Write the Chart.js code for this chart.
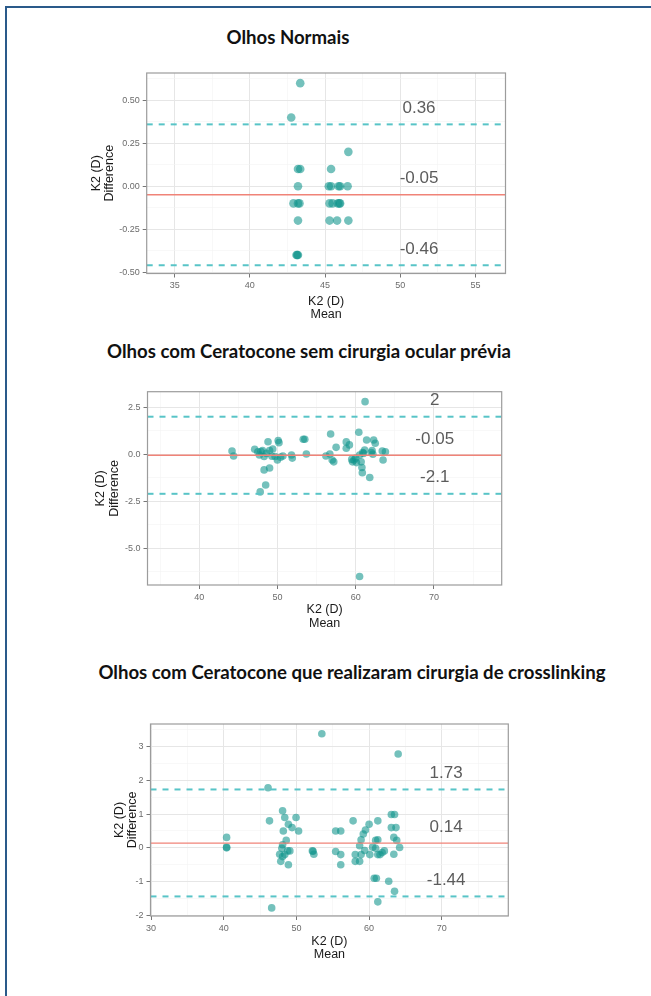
<!DOCTYPE html>
<html>
<head>
<meta charset="utf-8">
<script src="https://cdn.jsdelivr.net/npm/chart.js@4.4.1/dist/chart.umd.min.js"></script>
<style>
  html, body { margin: 0; padding: 0; background: #fff; }
  body { width: 651px; height: 996px; position: relative; overflow: hidden; }
  .frame { position: absolute; left: 5px; top: 6px; width: 700px; height: 1100px;
           border-left: 2px solid #2a5a8a; border-top: 2px solid #2a5a8a; }
  .title { position: absolute; font-family: Lato, "Open Sans", sans-serif; font-weight: 700;
           font-size: 18.6px; color: #111; white-space: nowrap; transform: translate(-50%, -50%); }
  canvas { position: absolute; }
</style>
</head>
<body>
<div class="frame"></div>

<div class="title" style="left:288px; top:37px">Olhos Normais</div>
<canvas id="chartNormal" width="440" height="270" style="left:80px; top:60px"></canvas>

<div class="title" style="left:309px; top:351px">Olhos com Ceratocone sem cirurgia ocular prévia</div>
<canvas id="chartKc" width="440" height="260" style="left:80px; top:380px"></canvas>

<div class="title" style="left:352px; top:672px">Olhos com Ceratocone que realizaram cirurgia de crosslinking</div>
<canvas id="chartCxl" width="440" height="260" style="left:80px; top:710px"></canvas>

<script>
// Olhos Normais
const normalMean = [43.35, 42.75, 43.2, 43.35, 43.2, 42.9, 43.2, 43.3, 43.2, 43.1, 43.2, 43.15,
                    45.4, 45.25, 45.4, 45.9, 46.0, 46.5, 45.3, 45.5, 45.85, 45.95, 46.0, 45.3, 45.8, 46.55, 46.55];
const normalDiff = [0.6, 0.4, 0.1, 0.1, 0.0, -0.1, -0.1, -0.1, -0.2, -0.4, -0.4, -0.4,
                    0.1, 0.0, 0.0, 0.0, 0.0, 0.0, -0.1, -0.1, -0.1, -0.1, -0.1, -0.2, -0.2, -0.2, 0.2];
const normalLimits = [0.36, -0.05, -0.46];
const normalXTicks = [35, 40, 45, 50, 55];
const normalYTicks = [-0.5, -0.25, 0, 0.25, 0.5];
const normalYLabels = ['-0.50', '-0.25', '0.00', '0.25', '0.50'];

// Ceratocone sem cirurgia
const kcMean = [61.2, 60.5, 44.2, 44.4, 47.1, 47.5, 47.7, 48.1, 48.3, 48.8, 49.0, 49.4, 49.7, 50.0, 50.1, 50.2,
                50.7, 51.8, 51.9, 49.0, 48.3, 48.5, 47.8, 53.3, 53.5, 53.7, 56.2, 56.7, 56.8, 57.0, 57.2, 57.5,
                58.8, 58.8, 59.2, 59.5, 59.6, 59.8, 60.1, 60.4, 60.5, 60.7, 60.8, 60.85, 60.9, 61.15, 61.4, 61.8,
                62.0, 62.1, 62.3, 62.5, 63.4, 63.5, 63.8, 47.9, 48.6, 49.3, 50.4, 60.0, 61.0, 62.2];
const kcDiff = [2.8, -6.5, 0.18, -0.09, 0.27, 0.14, -0.04, 0.2, -0.12, 0.67, 0.2, 0.28, -0.12, -0.3, 0.73, 0.62,
                -0.09, -0.04, -0.2, -0.73, -0.83, -1.63, -2.0, 0.8, 0.8, 0.02, -0.09, 0.02, 1.08, -0.3, -0.4, 0.37,
                0.66, 0.32, 0.5, -0.27, -0.4, -0.3, -0.44, 1.17, -0.04, -0.4, -0.7, -0.98, 0.09, 0.23, 0.76, -1.23,
                0.09, 0.2, 0.76, 0.59, 0.18, -0.3, 0.14, 0.15, 0.05, -0.1, -0.15, -0.2, 0.05, 0.0];
const kcLimits = [2, -0.05, -2.1];
const kcXTicks = [40, 50, 60, 70];
const kcYTicks = [-5, -2.5, 0, 2.5];
const kcYLabels = ['-5.0', '-2.5', '0.0', '2.5'];

// Ceratocone com crosslinking
const cxlMean = [53.5, 64.0, 46.1, 40.4, 40.4, 40.4, 46.3, 48.1, 48.4, 49.95, 48.9, 49.4, 50.3, 48.2, 48.6, 48.1,
                 48.0, 48.8, 49.1, 47.7, 48.1, 47.85, 48.9, 48.4, 52.2, 52.4, 52.3, 55.4, 56.1, 55.4, 56.1, 56.1,
                 57.8, 58.1, 58.1, 58.7, 58.9, 58.7, 58.9, 59.2, 59.5, 60.0, 59.4, 60.1, 60.5, 60.9, 61.2, 61.2,
                 60.9, 61.2, 61.5, 61.8, 62.1, 60.7, 61.0, 61.2, 62.7, 63.5, 63.06, 63.5, 63.06, 63.7, 63.4, 63.8,
                 64.2, 63.4, 46.6];
const cxlDiff = [3.38, 2.78, 1.78, 0.31, 0.0, 0.02, 0.8, 1.1, 0.9, 0.9, 0.7, 0.6, 0.5, 0.5, 0.22, 0.09,
                 -0.01, -0.09, -0.09, -0.19, -0.26, -0.4, -0.5, -0.2, -0.09, -0.19, -0.1, 0.5, 0.5, -0.11, -0.2, -0.5,
                 0.8, -0.2, -0.4, -0.4, -0.2, 0.06, 0.24, 0.41, 0.53, 0.7, -0.08, -0.2, 0.02, 0.22, 0.24, 0.8,
                 -0.01, -0.2, -0.2, -0.14, -0.09, -0.9, -0.9, -1.6, -0.99, -1.29, 0.99, 0.99, 0.6, 0.6, 0.31, 0.22,
                 0.01, -0.19, -1.78];
const cxlLimits = [1.73, 0.14, -1.44];
const cxlXTicks = [30, 40, 50, 60, 70];
const cxlYTicks = [-2, -1, 0, 1, 2, 3];
const cxlYLabels = ['-2', '-1', '0', '1', '2', '3'];

const FONT = '"Liberation Sans", Arial, sans-serif';
const POINT_COLOR = 'rgba(16,148,140,0.58)';
const LIMIT_COLOR = '#58c4c7';
const BIAS_COLOR = '#f08378';

// major ticks plus the half-step minor ones inside the range
function withMinor(major, min, max) {
    const half = (major[1] - major[0]) / 2;
    const out = [];
    for (let v = major[0] - 2 * half; v <= major[major.length - 1] + 2 * half + 1e-9; v += half) {
        const r = Math.round(v * 1000) / 1000;
        if (r >= min && r <= max) out.push(r);
    }
    return out;
}

function isMajor(major, v) {
    return major.some(m => Math.abs(m - v) < 1e-6);
}

function axis(major, labels, range, extra) {
    return Object.assign({
        type: 'linear',
        min: range[0],
        max: range[1],
        afterBuildTicks: s => { s.ticks = withMinor(major, range[0], range[1]).map(v => ({ value: v })); },
        border: { display: false },
        grid: {
            color: c => (c.tick && isMajor(major, c.tick.value)) ? '#e6e6e6' : '#f3f3f3',
            lineWidth: c => (c.tick && isMajor(major, c.tick.value)) ? 1 : 0.6,
            tickColor: c => (c.tick && isMajor(major, c.tick.value)) ? '#777' : 'rgba(0,0,0,0)',
            tickLength: 4,
            tickWidth: 1
        },
        ticks: {
            autoSkip: false,
            maxRotation: 0,
            padding: 3,
            font: { family: FONT, size: 9 },
            color: '#6b6b6b',
            callback: v => {
                const i = major.findIndex(m => Math.abs(m - v) < 1e-6);
                return i < 0 ? '' : labels[i];
            }
        }
    }, extra);
}

const panelPlugin = {
    id: 'panel',
    afterDatasetsDraw(chart, args, opts) {
        const { ctx, chartArea: a, scales } = chart;
        ctx.save();
        ctx.strokeStyle = '#9c9c9c';
        ctx.lineWidth = 1.2;
        ctx.strokeRect(a.left, a.top, a.right - a.left, a.bottom - a.top);
        ctx.font = '17px ' + FONT;
        ctx.fillStyle = '#5c5c5c';
        ctx.textAlign = 'center';
        ctx.textBaseline = 'middle';
        opts.limits.forEach(v => {
            ctx.fillText(String(v), scales.x.getPixelForValue(opts.labelX), scales.y.getPixelForValue(v) - 16);
        });
        ctx.restore();
    }
};

function makeBlandAltman(id, o) {
    const lines = o.limits.map((v, i) => ({
        type: 'line',
        data: [{ x: o.xRange[0], y: v }, { x: o.xRange[1], y: v }],
        borderColor: i === 1 ? BIAS_COLOR : LIMIT_COLOR,
        borderWidth: i === 1 ? 1.4 : 2,
        borderDash: i === 1 ? [] : [6, 6],
        pointRadius: 0,
        showLine: true,
        fill: false
    }));
    const points = {
        data: o.mean.map((m, i) => ({ x: m, y: o.diff[i] })),
        backgroundColor: POINT_COLOR,
        borderWidth: 0,
        pointRadius: o.radius
    };

    new Chart(document.getElementById(id), {
        type: 'scatter',
        data: { datasets: [...lines, points] },
        options: {
            responsive: false,
            animation: false,
            layout: { autoPadding: false, padding: { left: 0, bottom: 0, top: o.padTop, right: o.padRight } },
            plugins: {
                legend: { display: false },
                tooltip: { enabled: false },
                panel: { limits: o.limits, labelX: o.labelX }
            },
            scales: {
                x: axis(o.xTicks, o.xTicks.map(String), o.xRange, {
                    afterFit: s => { s.height = o.xHeight; },
                    title: {
                        display: true, text: ['K2 (D)', 'Mean'], color: '#1a1a1a',
                        font: { family: FONT, size: 12.5, lineHeight: 1.07 },
                        padding: { top: 0, bottom: o.xTitlePad }
                    }
                }),
                y: axis(o.yTicks, o.yLabels, o.yRange, {
                    afterFit: s => { s.width = o.yWidth; },
                    title: {
                        display: true, text: ['K2 (D)', 'Difference'], color: '#1a1a1a',
                        font: { family: FONT, size: 12.5, lineHeight: 1.07 },
                        padding: { top: o.yTitlePad, bottom: 0 }
                    }
                })
            }
        },
        plugins: [panelPlugin]
    });
}

document.addEventListener("DOMContentLoaded", () => {
    makeBlandAltman('chartNormal', {
        mean: normalMean, diff: normalDiff, limits: normalLimits,
        xTicks: normalXTicks, yTicks: normalYTicks, yLabels: normalYLabels,
        xRange: [33.14, 57.0], yRange: [-0.508, 0.659], labelX: 51.25, radius: 4.3,
        padTop: 13, padRight: 14.5, yWidth: 66.7, xHeight: 56.5, xTitlePad: 8.5, yTitlePad: 9.5
    });
    makeBlandAltman('chartKc', {
        mean: kcMean, diff: kcDiff, limits: kcLimits,
        xTicks: kcXTicks, yTicks: kcYTicks, yLabels: kcYLabels,
        xRange: [33.4, 78.66], yRange: [-6.95, 3.33], labelX: 70.1, radius: 3.8,
        padTop: 11.7, padRight: 18.3, yWidth: 67.5, xHeight: 55, xTitlePad: 10, yTitlePad: 14
    });
    makeBlandAltman('chartCxl', {
        mean: cxlMean, diff: cxlDiff, limits: cxlLimits,
        xTicks: cxlXTicks, yTicks: cxlYTicks, yLabels: cxlYLabels,
        xRange: [29.93, 79.15], yRange: [-2.02, 3.67], labelX: 70.6, radius: 3.8,
        padTop: 14, padRight: 11.7, yWidth: 70.5, xHeight: 54, xTitlePad: 8.4, yTitlePad: 32.6
    });
});
</script>
</body>
</html>
